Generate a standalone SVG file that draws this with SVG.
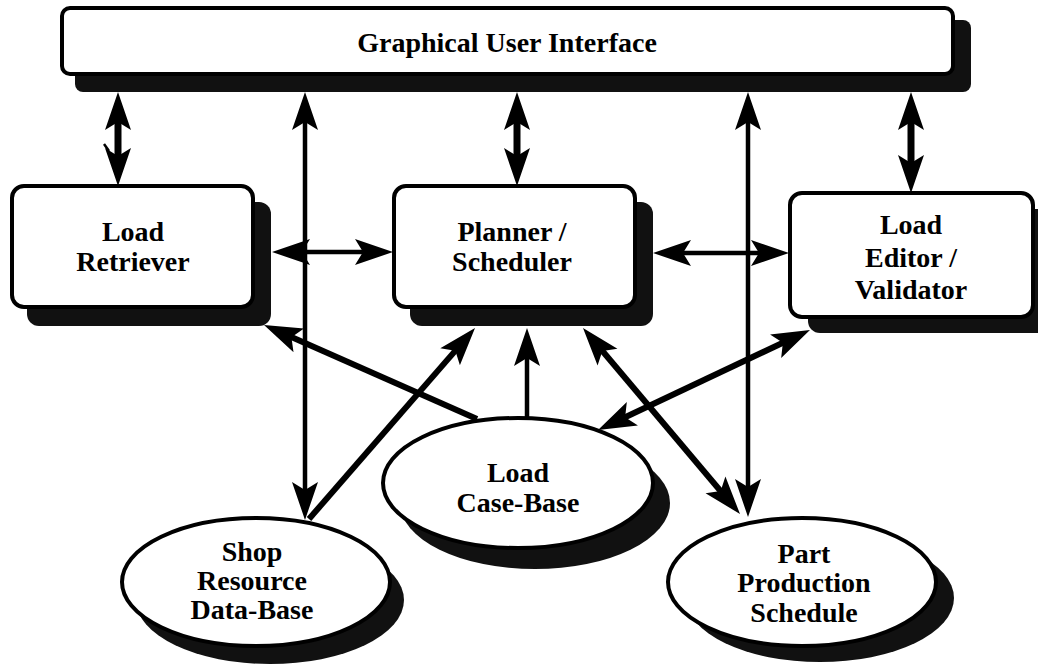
<svg xmlns="http://www.w3.org/2000/svg" width="1038" height="667" viewBox="0 0 1038 667">
<style>
.box{fill:#fff;stroke:#000;stroke-width:4}
.sh{fill:#111;stroke:none}
.lbl{font-family:"Liberation Serif","Times New Roman",serif;font-weight:bold;font-size:28px;fill:#000;text-anchor:middle}
.c{fill:none;stroke:#000}
.thick{stroke-width:7}
.med{stroke-width:6}
.thin{stroke-width:4.5}
</style>
<defs>
<marker id="ah" viewBox="-20 -14 42 28" refX="0" refY="0" markerWidth="42" markerHeight="28" markerUnits="userSpaceOnUse" orient="auto-start-reverse">
<path d="M20,0 L-18,-13 L-10,0 L-18,13 Z" fill="#000"/>
</marker>
</defs>
<rect width="1038" height="667" fill="#fff"/>

<g id="connectors">
<path class="c thick" d="M118,112 L118,166" marker-start="url(#ah)" marker-end="url(#ah)"/>
<path class="c thin" d="M305,112 L305,500" marker-start="url(#ah)" marker-end="url(#ah)"/>
<path class="c thick" d="M517,112 L517,166" marker-start="url(#ah)" marker-end="url(#ah)"/>
<path class="c thin" d="M748,112 L748,497" marker-start="url(#ah)" marker-end="url(#ah)"/>
<path class="c thick" d="M911,112 L911,173" marker-start="url(#ah)" marker-end="url(#ah)"/>
<path class="c thin" d="M292,252 L373,252" marker-start="url(#ah)" marker-end="url(#ah)"/>
<path class="c thin" d="M673,253 L769,253" marker-start="url(#ah)" marker-end="url(#ah)"/>
<path class="c med" d="M477,419 L282.3,333.1" marker-end="url(#ah)"/>
<path class="c med" d="M309,519 L461.9,343.1" marker-end="url(#ah)"/>
<path class="c thin" d="M527,420 L527,348" marker-end="url(#ah)"/>
<path class="c med" d="M595.9,343.3 L727.1,498.7" marker-start="url(#ah)" marker-end="url(#ah)"/>
<path class="c med" d="M616.1,421.5 L791.9,338.5" marker-start="url(#ah)" marker-end="url(#ah)"/>
<path d="M104,144 L109,151" stroke="#000" stroke-width="2.5"/>
</g>

<g id="gui">
<rect class="sh" x="75" y="20" width="896" height="72" rx="8"/>
<rect class="box" x="62" y="8" width="891" height="66" rx="8"/>
<text class="lbl" x="507" y="52">Graphical User Interface</text>
</g>

<g id="load-retriever">
<rect class="sh" x="27" y="202" width="244" height="124" rx="12"/>
<rect class="box" x="12" y="186" width="241" height="121" rx="12"/>
<text class="lbl" x="133" y="241">Load</text>
<text class="lbl" x="133" y="271">Retriever</text>
</g>

<g id="planner">
<rect class="sh" x="410" y="202" width="243" height="124" rx="12"/>
<rect class="box" x="394" y="186" width="241" height="121" rx="12"/>
<text class="lbl" x="512" y="241">Planner /</text>
<text class="lbl" x="512" y="271">Scheduler</text>
</g>

<g id="load-editor">
<rect class="sh" x="808" y="209" width="250" height="124" rx="12"/>
<rect class="box" x="790" y="193" width="243" height="124" rx="12"/>
<text class="lbl" x="911" y="234">Load</text>
<text class="lbl" x="911" y="267">Editor /</text>
<text class="lbl" x="911" y="299">Validator</text>
</g>

<g id="case-base">
<ellipse class="sh" cx="535" cy="503" rx="135" ry="66"/>
<ellipse class="box" cx="518" cy="483" rx="135" ry="65"/>
<text class="lbl" x="518" y="482">Load</text>
<text class="lbl" x="518" y="512">Case-Base</text>
</g>

<g id="shop">
<ellipse class="sh" cx="270" cy="600" rx="134" ry="64"/>
<ellipse class="box" cx="256" cy="582" rx="134" ry="64"/>
<text class="lbl" x="252" y="561">Shop</text>
<text class="lbl" x="252" y="590">Resource</text>
<text class="lbl" x="252" y="619">Data-Base</text>
</g>

<g id="part">
<ellipse class="sh" cx="820" cy="598" rx="134" ry="64"/>
<ellipse class="box" cx="802" cy="582" rx="134" ry="64"/>
<text class="lbl" x="804" y="563">Part</text>
<text class="lbl" x="804" y="592">Production</text>
<text class="lbl" x="804" y="622">Schedule</text>
</g>
</svg>
